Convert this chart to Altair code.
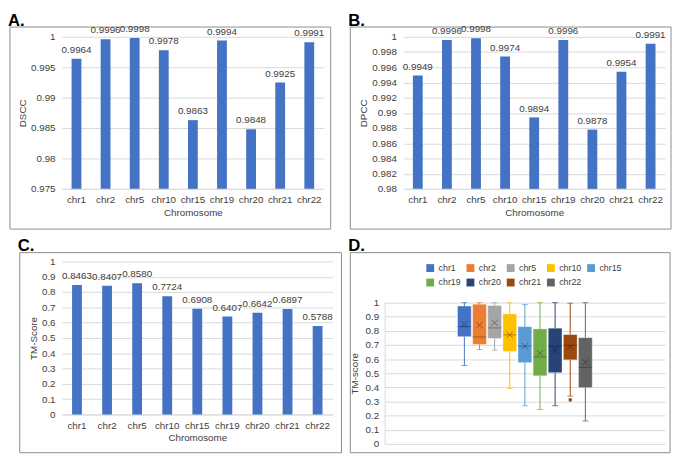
import altair as alt
import pandas as pd

FONT = "Liberation Sans"

chroms = ["chr1", "chr2", "chr5", "chr10", "chr15", "chr19", "chr20", "chr21", "chr22"]
dscc = [0.9964, 0.9996, 0.9998, 0.9978, 0.9863, 0.9994, 0.9848, 0.9925, 0.9991]
dpcc = [0.9949, 0.9996, 0.9998, 0.9974, 0.9894, 0.9996, 0.9878, 0.9954, 0.9991]
tm_score = [0.8463, 0.8407, 0.8580, 0.7724, 0.6908, 0.6407, 0.6642, 0.6897, 0.5788]

box_min = [0.555, 0.668, 0.664, 0.392, 0.270, 0.243, 0.270, 0.338, 0.162]
box_q1 = [0.759, 0.704, 0.746, 0.655, 0.575, 0.482, 0.504, 0.595, 0.398]
box_median = [0.830, 0.757, 0.821, 0.772, 0.692, 0.615, 0.692, 0.697, 0.542]
box_q3 = [0.976, 0.989, 0.980, 0.920, 0.830, 0.814, 0.819, 0.774, 0.752]
box_max = [1.0, 1.0, 1.0, 1.0, 0.987, 1.0, 1.0, 0.996, 1.0]
box_mean = tm_score
outlier_chr = ["chr21"]
outlier_val = [0.312]

colors = ["#4472C4", "#ED7D31", "#A5A5A5", "#FFC000", "#5B9BD5",
          "#70AD47", "#264478", "#9E480E", "#636363"]

ticks_a = [0.975, 0.98, 0.985, 0.99, 0.995, 1.0]
ticks_b = [0.98, 0.982, 0.984, 0.986, 0.988, 0.99, 0.992, 0.994, 0.996, 0.998, 1.0]
ticks_c = [0, 0.1, 0.2, 0.3, 0.4, 0.5, 0.6, 0.7, 0.8, 0.9, 1.0]

one = pd.DataFrame({"k": [0]})
GRID = "#D9D9D9"
TXT = "#404040"
BORDER = "#8C8C8C"


def decorations(letter, W, H, bl, br, bt, bb, lx, ly):
    frame = alt.Chart(one).mark_rect(fillOpacity=0, stroke=BORDER, strokeWidth=1).encode(
        x=alt.value(bl), x2=alt.value(W + br), y=alt.value(bt), y2=alt.value(H + bb))
    lab = alt.Chart(one).mark_text(text=letter, fontSize=17, fontWeight="bold", font=FONT,
                                   align="left", baseline="top", color="#000000").encode(
        x=alt.value(lx), y=alt.value(ly))
    return frame, lab


def bar_panel(letter, vals, ytitle, ydomain, yticks, W, H, bl, br, bt, bb, lx, ly):
    df = pd.DataFrame({"chr": chroms, "v": vals})
    x = alt.X("chr:N", sort=chroms, title="Chromosome",
              scale=alt.Scale(paddingInner=0, paddingOuter=0),
              axis=alt.Axis(labelAngle=0, domain=True, domainColor=GRID, ticks=False, tickSize=0,
                            labelPadding=6, titlePadding=3, grid=False, labelOverlap=False))
    y = alt.Y("v:Q", title=ytitle, scale=alt.Scale(domain=ydomain, zero=False, nice=False),
              axis=alt.Axis(values=yticks, format="~g", domain=False, ticks=False, tickSize=0,
                            labelPadding=7, titlePadding=3, grid=True, gridColor=GRID,
                            labelOverlap=False, labelBound=False, labelFlush=False))
    bars = alt.Chart(df).mark_bar(size=10, color="#4472C4").encode(x=x, y=y, y2=alt.datum(ydomain[0]))
    labels = alt.Chart(df).mark_text(baseline="bottom", dy=-4, fontSize=10, color=TXT, font=FONT).encode(
        x=x, y=y, text=alt.Text("v:Q", format=".4f"))
    frame, lab = decorations(letter, W, H, bl, br, bt, bb, lx, ly)
    return alt.layer(frame, bars, labels, lab).properties(width=W, height=H)


def box_panel(W, H):
    df = pd.DataFrame({"chr": chroms, "pos": list(range(len(chroms))), "lo": box_min, "q1": box_q1,
                       "med": box_median, "q3": box_q3, "hi": box_max, "mean": box_mean})
    out = pd.DataFrame({"chr": outlier_chr, "pos": [chroms.index(c) for c in outlier_chr],
                        "v": outlier_val})
    x = alt.X("pos:Q", scale=alt.Scale(domain=[-4.95, 12.95], nice=False, zero=False), axis=None)
    yscale = alt.Scale(domain=[0, 1], nice=False)
    yax = alt.Axis(values=ticks_c, format="~g", domain=True, domainColor=GRID, ticks=False, tickSize=0,
                   labelPadding=6, titlePadding=6, grid=True, gridColor=GRID,
                   labelOverlap=False, labelBound=False, labelFlush=False)

    def Y(field):
        return alt.Y(field, title="TM-score", scale=yscale, axis=yax)

    cscale = alt.Scale(domain=chroms, range=colors)
    col = alt.Color("chr:N", scale=cscale, sort=chroms,
                    legend=alt.Legend(orient="none", legendX=42, legendY=-40, columns=5,
                                      direction="horizontal", title=None, symbolType="square",
                                      symbolSize=64, symbolStrokeWidth=0, labelFontSize=9,
                                      labelFont=FONT, labelColor=TXT, columnPadding=5,
                                      rowPadding=5, labelOffset=4))
    base = alt.Chart(df)
    box = base.mark_bar(size=14, orient="vertical", stroke="#FFFFFF", strokeOpacity=0.35,
                        strokeWidth=1).encode(x=x, y=Y("q1:Q"), y2="q3:Q", color=col)
    whisk_lo = base.mark_rule(strokeWidth=1).encode(x=x, y=Y("lo:Q"), y2="q1:Q", color=col)
    whisk_hi = base.mark_rule(strokeWidth=1).encode(x=x, y=Y("q3:Q"), y2="hi:Q", color=col)
    cap_lo = base.mark_tick(orient="horizontal", size=6, thickness=1).encode(
        x=x, y=Y("lo:Q"), color=col)
    cap_hi = base.mark_tick(orient="horizontal", size=6, thickness=1).encode(
        x=x, y=Y("hi:Q"), color=col)
    med = base.mark_tick(orient="horizontal", size=14, thickness=1, color="#000000", opacity=0.3).encode(
        x=x, y=Y("med:Q"))
    mean = base.mark_point(shape="M-1,-1L1,1M1,-1L-1,1", size=40, filled=False, strokeWidth=1,
                           color="#000000", opacity=0.35).encode(x=x, y=Y("mean:Q"))
    outl = alt.Chart(out).mark_circle(size=14, opacity=1).encode(
        x=x, y=Y("v:Q"), color=col)
    frame, lab = decorations("D.", W, H, -35, 5, -51, 9, -37, -66)
    return alt.layer(frame, box, whisk_lo, whisk_hi, cap_lo, cap_hi, med, mean, outl, lab).properties(
        width=W, height=H)


A = bar_panel("A.", dscc, "DSCC", [0.975, 1.0], ticks_a, 267, 155, -53, 7, -10, 41, -55, -24)
B = bar_panel("B.", dpcc, "DPCC", [0.98, 1.0], ticks_b, 267, 155, -54, 6, -10, 41, -56, -24)
C = bar_panel("C.", tm_score, "TM-Score", [0, 1.0], ticks_c, 276, 156, -43, 9, -9, 39, -45, -24)
D = box_panel(286, 144)

chart = alt.concat(A, B, C, D, columns=2, align="none", bounds="full",
                   spacing=alt.RowColnumber(row=7, column=6)).resolve_scale(
    color="independent").resolve_legend(color="independent").properties(padding=0).configure_view(
    stroke=None).configure_axis(
    labelFont=FONT, titleFont=FONT, labelFontSize=10, titleFontSize=10, labelColor=TXT,
    titleColor=TXT, titleFontWeight="normal").configure_legend(labelFont=FONT)

chart.save("out.html", embed_options={"renderer": "svg", "actions": False})
